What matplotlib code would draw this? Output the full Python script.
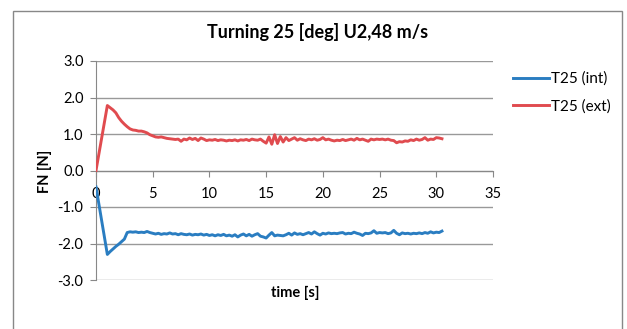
import numpy as np
import matplotlib
matplotlib.use("Agg")
import matplotlib.pyplot as plt
from matplotlib.patches import Rectangle

plt.rcParams['font.family'] = ['Lato', 'DejaVu Sans']

# start point at t=0, then samples every 0.25 s from 1.0 s to 30.5 s
ext_start = 0.0
ext_vals = [1.78, 1.72, 1.66, 1.58, 1.45, 1.35, 1.27, 1.20, 1.14, 1.11, 1.10, 1.08,
            1.08, 1.06, 1.03, 0.98, 0.95, 0.92, 0.91, 0.92, 0.90, 0.88, 0.87, 0.86,
            0.85, 0.86, 0.80, 0.86, 0.84, 0.89, 0.85, 0.88, 0.82, 0.89, 0.86, 0.82,
            0.84, 0.83, 0.85, 0.82, 0.84, 0.83, 0.81, 0.83, 0.82, 0.84, 0.81, 0.84,
            0.83, 0.85, 0.82, 0.86, 0.84, 0.83, 0.86, 0.80, 0.75, 0.92, 0.72, 0.98,
            0.74, 0.93, 0.78, 0.90, 0.82, 0.86, 0.90, 0.83, 0.87, 0.84, 0.82, 0.86,
            0.84, 0.87, 0.83, 0.85, 0.90, 0.84, 0.86, 0.83, 0.81, 0.83, 0.82, 0.85,
            0.82, 0.84, 0.86, 0.83, 0.88, 0.84, 0.86, 0.83, 0.80, 0.86, 0.84, 0.86,
            0.85, 0.86, 0.84, 0.86, 0.83, 0.82, 0.76, 0.79, 0.78, 0.81, 0.80, 0.84,
            0.82, 0.86, 0.83, 0.85, 0.90, 0.83, 0.86, 0.85, 0.90, 0.89, 0.87]

int_start = -0.45
int_vals = [-2.30, -2.22, -2.15, -2.08, -2.02, -1.95, -1.88, -1.70, -1.68, -1.69, -1.68, -1.70,
            -1.69, -1.70, -1.67, -1.70, -1.72, -1.74, -1.72, -1.75, -1.73, -1.74, -1.71, -1.74,
            -1.73, -1.76, -1.73, -1.75, -1.76, -1.74, -1.77, -1.75, -1.76, -1.74, -1.77, -1.75,
            -1.78, -1.76, -1.79, -1.76, -1.78, -1.75, -1.79, -1.77, -1.80, -1.76, -1.82, -1.77,
            -1.74, -1.79, -1.75, -1.80, -1.76, -1.73, -1.80, -1.82, -1.85, -1.77, -1.70, -1.79,
            -1.77, -1.78, -1.79, -1.76, -1.72, -1.77, -1.71, -1.75, -1.73, -1.76, -1.73, -1.70,
            -1.74, -1.68, -1.73, -1.77, -1.72, -1.74, -1.71, -1.73, -1.72, -1.73, -1.71, -1.70,
            -1.74, -1.72, -1.73, -1.69, -1.72, -1.74, -1.78, -1.72, -1.73, -1.71, -1.65, -1.72,
            -1.70, -1.71, -1.70, -1.73, -1.71, -1.64, -1.72, -1.76, -1.71, -1.73, -1.72, -1.74,
            -1.72, -1.73, -1.71, -1.73, -1.70, -1.72, -1.68, -1.71, -1.69, -1.70, -1.66]

t_step = 0.25
t_first = 1.0
time_tail = t_first + t_step * np.arange(len(ext_vals))
time = np.concatenate([[0.0], time_tail])
ext = np.concatenate([[ext_start], ext_vals])
intv = np.concatenate([[int_start], int_vals])

W, H = 627, 329
fig = plt.figure(figsize=(W / 100, H / 100), dpi=100)
ax = fig.add_axes([96 / W, 1 - 280 / H, (493 - 96) / W, (280 - 61) / H])

ax.plot(time, intv, color="#2A7DC1", lw=2.1, label="T25 (int)", zorder=3)
ax.plot(time, ext, color="#E04B4F", lw=2.1, label="T25 (ext)", zorder=3)

ax.set_xlim(0, 35)
ax.set_ylim(-3, 3)
ax.set_xticks(range(0, 36, 5))
ax.set_yticks(np.arange(-3, 3.1, 1))
ax.set_yticklabels([f"{v:.1f}" for v in np.arange(-3, 3.1, 1)])

ax.grid(axis="y", color="#999999", lw=1.0)
ax.set_axisbelow(True)
for s in ["top", "right"]:
    ax.spines[s].set_visible(False)
ax.spines["bottom"].set_position(("data", 0))
ax.spines["bottom"].set_color("#888888")
ax.spines["left"].set_color("#888888")
ax.tick_params(axis="both", colors="#888888", labelcolor="black", labelsize=10.5, length=4)
ax.tick_params(axis="x", direction="out", pad=8)
ax.tick_params(axis="y", pad=5)

fig.text(318 / W, 1 - 32 / H, "Turning 25 [deg] U2,48 m/s", ha="center", va="center",
         fontsize=13, fontweight="bold")
fig.text(45 / W, 1 - 171 / H, "FN [N]", ha="center", va="center", rotation=90,
         fontsize=10.5, fontweight="bold")
fig.text(295 / W, 1 - 293 / H, "time [s]", ha="center", va="center",
         fontsize=10.5, fontweight="bold")

ax.legend(loc="upper left", bbox_to_anchor=(499 / W, 1 - 58 / H), bbox_transform=fig.transFigure,
          frameon=False, fontsize=11, handlelength=2.4, handletextpad=0.1, labelspacing=0.85)

fig.patches.append(Rectangle((13 / W, -0.05), (622 - 13) / W, 1.05 - 11 / H,
                             transform=fig.transFigure, fill=False, edgecolor="#888888", lw=1.0))

fig.savefig("out.png", dpi=100)
